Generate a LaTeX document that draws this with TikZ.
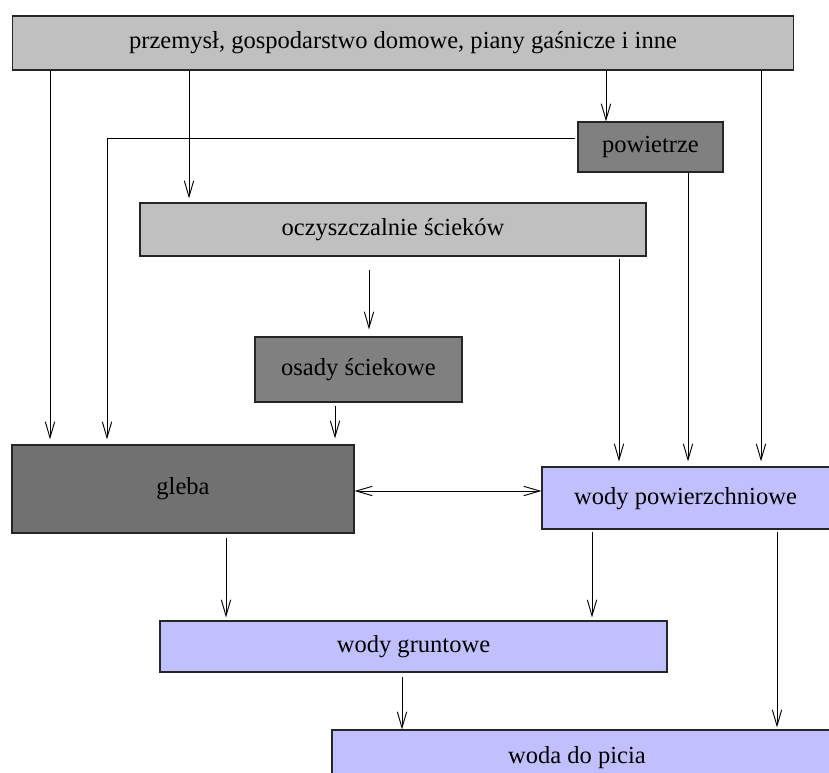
\documentclass[tikz,border=0pt]{standalone}
\usepackage{fontspec}
\setmainfont{Liberation Serif}
\usetikzlibrary{arrows.meta}
\definecolor{lgray}{HTML}{C0C0C0}
\definecolor{mgray}{HTML}{808080}
\definecolor{dgray}{HTML}{717171}
\definecolor{lav}{HTML}{C0C0FF}
\begin{document}
\begin{tikzpicture}[x=0.75pt,y=-0.75pt,
  txt/.style={font=\fontsize{18.4}{21}\selectfont},
  box/.style={draw=black!85, line width=0.8pt, rectangle, inner sep=0pt, txt},
  arr/.style={-{Straight Barb[length=12pt,width=7pt,line width=0.7pt]}, line width=0.6pt},
  darr/.style={{Straight Barb[length=12pt,width=7pt,line width=0.7pt]}-{Straight Barb[length=12pt,width=7pt,line width=0.7pt]}, line width=0.6pt}]
\useasboundingbox (0,0) rectangle (829,773);
\fill[white] (0,0) rectangle (829,773);

\node[box, fill=lgray, minimum width=585.75pt, minimum height=40.5pt] (top) at (403,43)
  {\raisebox{-2pt}{przemysł, gospodarstwo domowe, piany gaśnicze i inne}};
\node[box, fill=mgray, minimum width=108.75pt, minimum height=37.5pt] (pow) at (650.5,147) {powietrze};
\node[box, fill=lgray, minimum width=379.5pt, minimum height=39.75pt] (ocz) at (393,229.5) {oczyszczalnie ścieków};
\node[box, fill=mgray, minimum width=155.25pt, minimum height=48.75pt] (osady) at (358.5,369.5) {osady ściekowe};
\node[box, fill=dgray, minimum width=256.5pt, minimum height=66pt] (gleba) at (183,489) {gleba};
\node[box, fill=lav, minimum width=219.75pt, minimum height=46.5pt] (wp) at (688.5,498) {};
\node[txt] at (685.5,499) {wody powierzchniowe};
\node[box, fill=lav, minimum width=380.25pt, minimum height=38.25pt] (wg) at (413.5,646.5) {wody gruntowe};
\node[box, fill=lav, minimum width=378.75pt, minimum height=45pt] (woda) at (584.5,760) {};
\node[txt] at (577,758) {woda do picia};

\path (50,0) coordinate (xa) (107,0) coordinate (xb) (189,0) coordinate (xc)
      (606,0) coordinate (xd) (761,0) coordinate (xe) (688,0) coordinate (xf)
      (369,0) coordinate (xg) (619,0) coordinate (xh) (335,0) coordinate (xi)
      (226,0) coordinate (xj) (592,0) coordinate (xk) (777,0) coordinate (xl)
      (402,0) coordinate (xm) (0,138) coordinate (ya) (575,0) coordinate (xn);

\draw[arr, shorten >=3.75pt] (top.south -| xa) -- (gleba.north -| xa);
\draw[arr, shorten >=3pt] (top.south -| xc) -- (ocz.north -| xc);
\draw[arr] (top.south -| xd) -- (pow.north -| xd);
\draw[arr, shorten >=3.75pt] (top.south -| xe) -- (wp.north -| xe);
\draw[arr, shorten >=3.75pt] (xn |- ya) -| (gleba.north -| xb);
\draw[arr, shorten >=3.75pt] (pow.south -| xf) -- (wp.north -| xf);
\draw[arr, shorten <=9.75pt, shorten >=5.25pt] (ocz.south -| xg) -- (osady.north -| xg);
\draw[arr, shorten <=1.5pt, shorten >=3.75pt] (ocz.south -| xh) -- (wp.north -| xh);
\draw[arr, shorten <=2.25pt, shorten >=4.5pt] (osady.south -| xi) -- (gleba.north -| xi);
\draw[darr] ([yshift=-1.5pt]gleba.east) -- ([yshift=-1.5pt]gleba.east -| wp.west);
\draw[arr, shorten <=3pt, shorten >=2.25pt] (gleba.south -| xj) -- (wg.north -| xj);
\draw[arr, shorten <=1.5pt, shorten >=2.25pt] (wp.south -| xk) -- (wg.north -| xk);
\draw[arr, shorten <=1.5pt, shorten >=1.5pt] (wp.south -| xl) -- (woda.north -| xl);
\draw[arr, shorten <=3pt] (wg.south -| xm) -- (woda.north -| xm);
\end{tikzpicture}
\end{document}
